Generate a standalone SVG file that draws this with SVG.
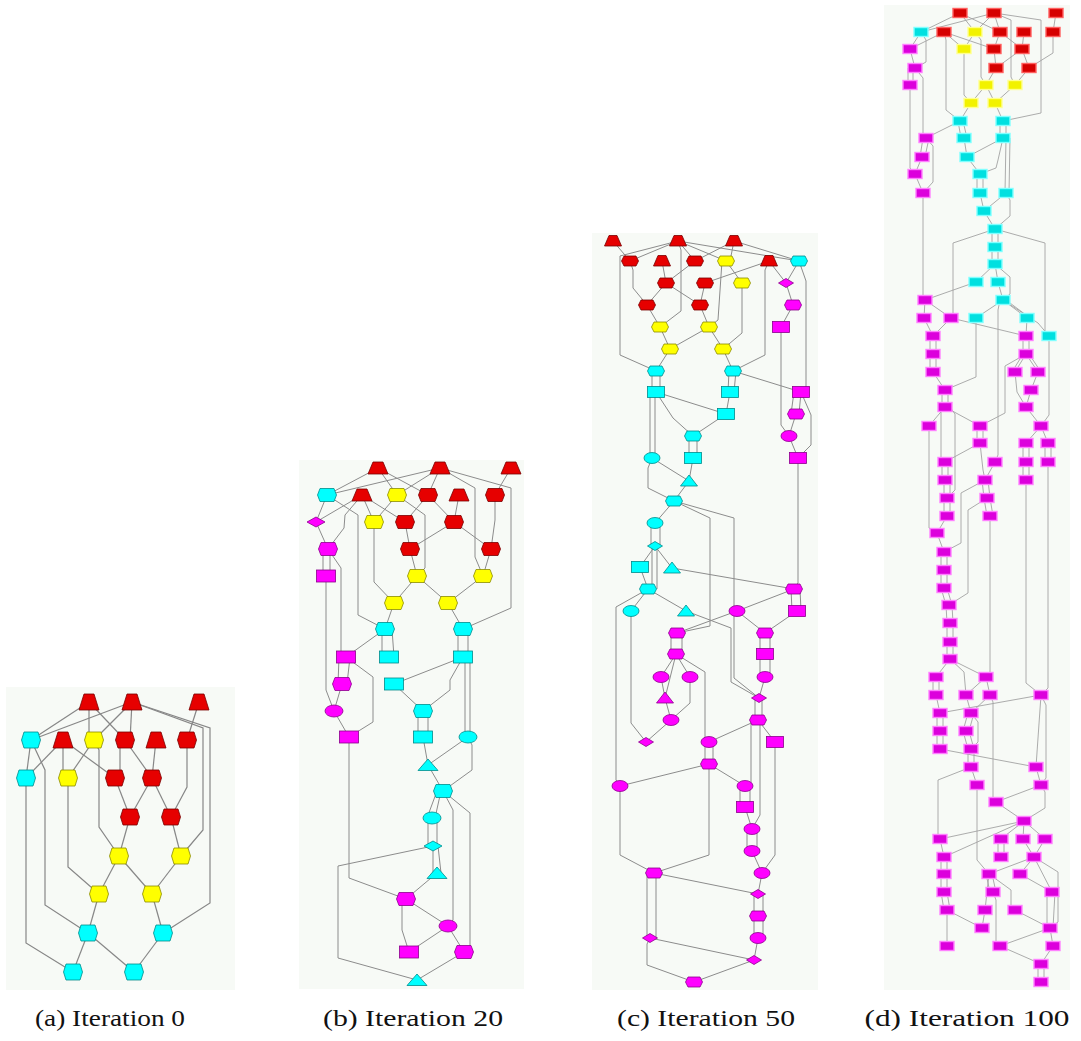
<svg xmlns="http://www.w3.org/2000/svg" xmlns:xlink="http://www.w3.org/1999/xlink" width="1081" height="1041" viewBox="0 0 1081 1041">
<style>
.bg{fill:#f7faf6}
.e polyline{fill:none;stroke:#8c8c8c;stroke-width:1}
#edges-a polyline{stroke:#878787;stroke-width:1.2}
#edges-d polyline{stroke:#a3a3a3;stroke-width:0.9}
.r{fill:#e60000;stroke:#7a0000;stroke-width:0.8}
.y{fill:#ffff00;stroke:#8c8c00;stroke-width:0.8}
.c{fill:#00ffff;stroke:#008b8b;stroke-width:0.8}
.m{fill:#ff00ff;stroke:#8b008b;stroke-width:0.8}
.dr{fill:#d60000;stroke:#ff6060;stroke-width:1.4}
.dy{fill:#f2f200;stroke:#ffff90;stroke-width:1.4}
.dc{fill:#00e0e0;stroke:#80ffff;stroke-width:1.4}
.dm{fill:#dc00dc;stroke:#ff80ff;stroke-width:1.4}
.cap{font-family:'Liberation Serif','Times New Roman',Times,serif;font-size:24px;fill:#111;text-anchor:middle}
</style>
<defs>
<polygon id="trA" points="-5,-8 5,-8 10,8 -10,8"/>
<polygon id="hxA" points="-7,-8 7,-8 9.5,0 7,8 -7,8 -9.5,0"/>
<polygon id="trB" points="-5,-6 5,-6 10,6 -10,6"/>
<polygon id="hxB" points="-7,-6.5 7,-6.5 9.5,0 7,6.5 -7,6.5 -9.5,0"/>
<rect id="rcB" x="-9.5" y="-6" width="19" height="12"/>
<ellipse id="elB" rx="9" ry="6"/>
<polygon id="dmB" points="-9,0 0,-5 9,0 0,5"/>
<polygon id="tiB" points="0,-6 10,5.5 -10,5.5"/>
<polygon id="trC" points="-4,-5.5 4,-5.5 8.5,5 -8.5,5"/>
<polygon id="hxC" points="-6,-5 6,-5 8.5,0 6,5 -6,5 -8.5,0"/>
<rect id="rcC" x="-8.5" y="-5.5" width="17" height="11"/>
<ellipse id="elC" rx="8" ry="5.5"/>
<polygon id="dmC" points="-7.5,0 0,-4.5 7.5,0 0,4.5"/>
<polygon id="tiC" points="0,-6 8.5,5 -8.5,5"/>
<rect id="rcD" x="-7" y="-4.5" width="14" height="9"/>
</defs>
<rect width="1081" height="1041" fill="#ffffff"/>
<rect class="bg" x="6" y="687" width="229" height="303"/>
<rect class="bg" x="299" y="460" width="225" height="529"/>
<rect class="bg" x="592" y="233" width="226" height="757"/>
<rect class="bg" x="884" y="5" width="186" height="985"/>

<g id="edges-a" class="e">
<polyline points="89,702 31,740"/><polyline points="89,702 89,733"/><polyline points="89,702 125,740"/>
<polyline points="132,702 31,740"/><polyline points="132,702 94,740"/><polyline points="132,702 130,740"/>
<polyline points="132,702 203,728 203,830 181,856"/><polyline points="132,702 210,728 210,903 163,933"/>
<polyline points="199,702 187,740"/>
<polyline points="31,740 26,778"/><polyline points="31,740 45,770 45,905 88,933"/>
<polyline points="63,740 26,778"/><polyline points="63,740 63,771"/><polyline points="63,740 115,778"/>
<polyline points="94,740 68,778"/><polyline points="94,740 99,750 99,827 119,856"/>
<polyline points="120,740 120,778"/><polyline points="125,740 152,778"/><polyline points="156,740 152,778"/>
<polyline points="187,740 187,787 171,817"/>
<polyline points="26,778 26,943 73,972"/><polyline points="68,778 68,867 99,894"/>
<polyline points="115,778 130,817"/><polyline points="152,778 130,817"/><polyline points="152,778 171,817"/>
<polyline points="130,817 119,856"/><polyline points="171,817 181,856"/>
<polyline points="119,856 99,894"/><polyline points="119,856 152,894"/><polyline points="181,856 152,894"/>
<polyline points="99,894 88,933"/><polyline points="152,894 163,933"/>
<polyline points="88,933 73,972"/><polyline points="88,933 134,972"/><polyline points="163,933 134,972"/>
</g>

<g id="edges-b" class="e">
<polyline points="378,468 327,495"/><polyline points="378,468 397,495"/><polyline points="378,468 428,495"/>
<polyline points="440,468 327,495"/><polyline points="440,468 397,495"/><polyline points="440,468 428,495"/>
<polyline points="440,468 475,488 475,557 483,576"/><polyline points="440,468 511,488 511,608 463,629"/>
<polyline points="511,468 495,495"/>
<polyline points="327,495 316,522"/><polyline points="327,495 358,515 358,615 385,629"/>
<polyline points="362,495 316,522"/><polyline points="362,495 345,515 344,528 328,549"/>
<polyline points="362,495 374,522"/><polyline points="362,495 405,522"/>
<polyline points="397,495 374,522"/><polyline points="397,495 425,515 425,568 417,576"/>
<polyline points="428,495 405,522"/><polyline points="428,495 454,522"/><polyline points="459,495 454,522"/>
<polyline points="495,495 495,520 491,549"/>
<polyline points="316,522 328,549"/><polyline points="374,522 374,582 394,603"/>
<polyline points="405,522 410,549"/><polyline points="454,522 410,549"/><polyline points="454,522 491,549"/>
<polyline points="323,549 323,576"/><polyline points="330,549 330,576"/>
<polyline points="328,549 341,568 341,657"/>
<polyline points="410,549 417,576"/><polyline points="491,549 483,576"/>
<polyline points="326,576 326,690 334,711"/>
<polyline points="417,576 394,603"/><polyline points="417,576 448,603"/><polyline points="483,576 448,603"/>
<polyline points="394,603 385,629"/><polyline points="448,603 463,629"/>
<polyline points="385,629 346,657"/><polyline points="382,629 382,657"/><polyline points="392,629 394,657"/>
<polyline points="458,629 458,657"/><polyline points="468,629 468,657"/>
<polyline points="463,657 394,684"/><polyline points="463,657 450,680 450,690 423,711"/>
<polyline points="465,657 465,737"/><polyline points="470,657 470,737"/>
<polyline points="339,657 338,684"/><polyline points="350,657 347,684"/>
<polyline points="346,657 373,677 373,722 349,737"/>
<polyline points="342,684 334,711"/><polyline points="394,684 423,711"/>
<polyline points="418,711 418,737"/><polyline points="428,711 428,737"/>
<polyline points="334,711 349,737"/>
<polyline points="349,737 349,878 406,899"/>
<polyline points="423,737 428,765"/><polyline points="468,737 428,765"/>
<polyline points="468,737 472,745 472,770 443,791"/>
<polyline points="428,765 443,791"/>
<polyline points="437,791 427,818"/><polyline points="441,791 435,818"/>
<polyline points="443,791 453,810 453,920 448,926"/><polyline points="443,791 470,813 470,947 464,952"/>
<polyline points="428,818 428,846"/><polyline points="437,818 437,846"/>
<polyline points="433,846 338,866 338,958 417,980"/>
<polyline points="433,846 433,873"/><polyline points="438,846 441,873"/>
<polyline points="437,873 406,899"/>
<polyline points="406,899 448,926"/><polyline points="406,899 402,904 402,930 409,952"/>
<polyline points="448,926 409,952"/><polyline points="448,926 464,952"/>
<polyline points="464,952 417,980"/>
</g>

<g id="edges-c" class="e">
<polyline points="613,241 630,261"/><polyline points="678,241 630,261"/>
<polyline points="678,241 620,256 620,355 656,371"/><polyline points="678,241 695,261"/>
<polyline points="678,241 681,250 681,311 660,327"/><polyline points="678,241 726,261"/><polyline points="678,241 799,261"/>
<polyline points="734,241 695,261"/><polyline points="734,241 730,261"/><polyline points="734,241 799,261"/>
<polyline points="662,261 666,283"/><polyline points="630,261 633,270 633,288 647,305"/>
<polyline points="695,261 666,283"/><polyline points="726,261 742,283"/><polyline points="722,261 718,320 709,327"/>
<polyline points="769,261 705,283"/><polyline points="769,261 765,270 765,355 733,371"/><polyline points="769,261 786,283"/>
<polyline points="799,261 786,283"/><polyline points="799,261 806,281 806,388 801,392"/>
<polyline points="666,283 647,305"/><polyline points="666,283 700,305"/><polyline points="705,283 700,305"/>
<polyline points="742,283 742,333 723,349"/><polyline points="786,283 793,305"/><polyline points="793,305 781,327"/>
<polyline points="647,305 660,327"/><polyline points="700,305 709,327"/>
<polyline points="660,327 670,349"/><polyline points="709,327 670,349"/><polyline points="709,327 723,349"/>
<polyline points="670,349 656,371"/><polyline points="723,349 733,371"/>
<polyline points="652,371 652,392"/><polyline points="660,371 660,392"/>
<polyline points="729,371 728,392"/><polyline points="736,371 734,392"/><polyline points="733,371 801,392"/>
<polyline points="656,392 726,414"/><polyline points="656,392 673,418 693,436"/>
<polyline points="650,392 650,458"/><polyline points="655,392 655,458"/>
<polyline points="730,392 726,414"/><polyline points="726,414 693,436"/>
<polyline points="689,436 689,458"/><polyline points="697,436 697,458"/>
<polyline points="693,458 689,481"/><polyline points="652,458 689,481"/>
<polyline points="652,458 648,468 648,488 674,501"/><polyline points="689,481 674,501"/>
<polyline points="781,327 781,425 789,436"/>
<polyline points="794,392 791,414"/><polyline points="801,392 799,414"/>
<polyline points="801,392 811,415 811,445 798,458"/>
<polyline points="796,414 789,436"/><polyline points="789,436 798,458"/>
<polyline points="798,458 798,583 794,589"/>
<polyline points="674,501 655,523"/><polyline points="674,501 710,518 710,626 677,633"/>
<polyline points="674,501 734,518 734,678 759,698"/>
<polyline points="651,523 651,546"/><polyline points="660,523 660,546"/>
<polyline points="655,546 640,567"/><polyline points="655,546 672,568"/>
<polyline points="652,546 652,589"/><polyline points="657,546 657,589"/>
<polyline points="640,567 648,589"/><polyline points="672,568 794,589"/>
<polyline points="648,589 631,611"/><polyline points="648,589 686,611"/>
<polyline points="648,589 616,607 616,780 620,786"/>
<polyline points="686,611 731,628 731,682 759,698"/>
<polyline points="631,611 631,723 646,742"/>
<polyline points="794,589 737,611"/><polyline points="791,589 792,611"/><polyline points="800,589 801,611"/>
<polyline points="737,611 677,633"/><polyline points="737,611 765,633"/><polyline points="797,611 765,633"/>
<polyline points="671,633 671,654"/><polyline points="682,633 682,654"/>
<polyline points="760,633 760,654"/><polyline points="770,633 770,654"/>
<polyline points="760,654 760,677"/><polyline points="770,654 770,677"/>
<polyline points="676,654 661,677"/><polyline points="676,654 690,677"/><polyline points="676,654 665,698"/>
<polyline points="676,654 705,672 705,742"/>
<polyline points="661,677 665,698"/><polyline points="690,677 690,703 671,720"/>
<polyline points="665,698 671,720"/><polyline points="765,677 759,698"/>
<polyline points="755,698 755,720"/><polyline points="762,698 762,720"/>
<polyline points="758,720 709,742"/><polyline points="758,720 775,742"/>
<polyline points="751,720 751,786"/><polyline points="760,720 760,815 752,829"/>
<polyline points="671,720 646,742"/>
<polyline points="705,742 705,764"/><polyline points="713,742 713,764"/>
<polyline points="709,764 620,786"/><polyline points="709,764 745,786"/>
<polyline points="709,764 709,855 654,873"/>
<polyline points="775,742 775,855 762,873"/>
<polyline points="620,786 620,855 654,873"/>
<polyline points="740,786 740,807"/><polyline points="750,786 750,807"/>
<polyline points="745,807 752,829"/>
<polyline points="747,829 747,851"/><polyline points="757,829 757,851"/>
<polyline points="752,851 762,873"/>
<polyline points="647,873 647,938"/><polyline points="656,873 656,938"/>
<polyline points="654,873 758,894"/><polyline points="762,873 758,894"/>
<polyline points="754,894 754,916"/><polyline points="763,894 763,916"/>
<polyline points="754,916 754,938"/><polyline points="763,916 763,938"/>
<polyline points="758,938 754,960"/><polyline points="650,938 754,960"/>
<polyline points="650,938 647,944 647,965 694,982"/><polyline points="754,960 694,982"/>
</g>

<g id="edges-d" class="e">
<polyline points="960,13 921,32"/><polyline points="960,13 975,32"/><polyline points="960,13 1000,32"/>
<polyline points="994,13 921,32"/><polyline points="994,13 975,32"/><polyline points="994,13 1000,32"/>
<polyline points="994,13 1011,20 1011,77 1015,85"/><polyline points="994,13 1041,20 1041,113 1003,121"/>
<polyline points="1056,13 1053,32"/>
<polyline points="921,32 910,49"/><polyline points="921,32 926,40 926,62 915,68"/>
<polyline points="944,32 910,49"/><polyline points="944,32 946,40 946,110 960,121"/>
<polyline points="944,32 964,49"/><polyline points="944,32 994,49"/>
<polyline points="975,32 964,49"/><polyline points="975,32 981,40 981,77 986,85"/>
<polyline points="1000,32 994,49"/><polyline points="1000,32 1022,49"/><polyline points="1024,32 1022,49"/>
<polyline points="1053,32 1053,53 1029,68"/>
<polyline points="910,49 915,68"/><polyline points="964,49 964,95 971,103"/>
<polyline points="994,49 996,68"/><polyline points="1022,49 996,68"/><polyline points="1022,49 1029,68"/>
<polyline points="908,68 908,85"/><polyline points="913,68 913,85"/>
<polyline points="915,68 923,78 923,133 926,138"/>
<polyline points="996,68 986,85"/><polyline points="1029,68 1015,85"/>
<polyline points="910,85 910,168 915,174"/>
<polyline points="986,85 971,103"/><polyline points="986,85 995,103"/><polyline points="1015,85 995,103"/>
<polyline points="971,103 960,121"/><polyline points="995,103 1003,121"/>
<polyline points="960,121 926,138"/><polyline points="958,121 961,138"/><polyline points="963,121 967,138"/>
<polyline points="1000,121 1000,138"/><polyline points="1006,121 1006,138"/>
<polyline points="923,138 920,157"/><polyline points="929,138 925,157"/>
<polyline points="926,138 933,146 933,182 923,193"/>
<polyline points="964,138 967,157"/><polyline points="1003,138 967,157"/>
<polyline points="1003,138 998,160 996,168 980,174"/>
<polyline points="1006,138 1005,193"/><polyline points="1010,138 1009,193"/>
<polyline points="922,157 915,174"/><polyline points="967,157 980,174"/><polyline points="915,174 923,193"/>
<polyline points="977,174 977,193"/><polyline points="983,174 983,193"/>
<polyline points="980,193 984,211"/><polyline points="1006,193 984,211"/>
<polyline points="1006,193 1010,200 1010,216 995,229"/>
<polyline points="923,193 923,295 925,300"/>
<polyline points="984,211 995,229"/>
<polyline points="992,229 992,247"/><polyline points="998,229 998,247"/>
<polyline points="995,229 953,243 953,313 951,318"/><polyline points="995,229 1045,243 1045,331 1049,336"/>
<polyline points="992,247 992,264"/><polyline points="998,247 998,264"/>
<polyline points="995,264 976,282"/><polyline points="995,264 998,282"/><polyline points="995,264 1010,277 1010,294 1003,300"/>
<polyline points="976,282 925,300"/><polyline points="998,282 1003,300"/>
<polyline points="925,300 924,318"/><polyline points="925,300 951,318"/>
<polyline points="1003,300 976,318"/><polyline points="1003,300 1027,318"/><polyline points="1006,300 1030,318"/>
<polyline points="1003,300 1038,323 1049,336"/><polyline points="1000,300 998,310 998,455 995,462"/>
<polyline points="924,318 933,336"/><polyline points="951,318 933,336"/><polyline points="951,318 1026,336"/>
<polyline points="976,318 976,377 945,390"/><polyline points="1027,318 1026,336"/>
<polyline points="930,336 930,354"/><polyline points="936,336 936,354"/>
<polyline points="930,354 930,372"/><polyline points="936,354 936,372"/>
<polyline points="1023,336 1023,354"/><polyline points="1029,336 1029,354"/>
<polyline points="1026,354 1015,372"/><polyline points="1023,354 1012,372"/>
<polyline points="1026,354 1038,372"/><polyline points="1029,354 1041,372"/>
<polyline points="1026,354 1005,366 1005,413 980,426"/>
<polyline points="933,372 945,390"/><polyline points="1015,372 1017,392 1026,407"/>
<polyline points="1038,372 1031,390"/><polyline points="1031,390 1026,407"/>
<polyline points="942,390 942,407"/><polyline points="948,390 948,407"/>
<polyline points="945,407 929,426"/><polyline points="945,407 980,426"/>
<polyline points="941,407 941,457 945,462"/><polyline points="950,407 955,414 955,490 947,498"/>
<polyline points="1026,407 1041,426"/><polyline points="1049,336 1049,415 1041,426"/>
<polyline points="929,426 929,528 937,533"/>
<polyline points="977,426 977,443"/><polyline points="983,426 983,443"/>
<polyline points="980,443 945,462"/><polyline points="980,443 983,470 985,480"/><polyline points="995,462 985,480"/>
<polyline points="1041,426 1026,443"/><polyline points="1041,426 1048,443"/>
<polyline points="1023,443 1023,462"/><polyline points="1029,443 1029,462"/>
<polyline points="1023,462 1023,480"/><polyline points="1029,462 1029,480"/>
<polyline points="1045,443 1045,462"/><polyline points="1051,443 1051,462"/>
<polyline points="1026,480 1026,683 1041,695"/><polyline points="1048,462 1048,688 1041,695"/>
<polyline points="942,462 942,480"/><polyline points="948,462 948,480"/>
<polyline points="944,480 944,498"/><polyline points="950,480 950,498"/>
<polyline points="944,498 944,516"/><polyline points="950,498 950,516"/>
<polyline points="947,516 937,533"/>
<polyline points="982,480 984,498"/><polyline points="988,480 990,498"/>
<polyline points="985,480 961,493 961,543 944,552"/>
<polyline points="984,498 987,516"/><polyline points="990,498 993,516"/>
<polyline points="987,498 968,510 968,593 949,605"/>
<polyline points="990,516 990,672 986,677"/>
<polyline points="937,533 944,552"/>
<polyline points="941,552 941,570"/><polyline points="947,552 947,570"/>
<polyline points="941,570 941,588"/><polyline points="947,570 947,588"/>
<polyline points="941,588 946,605"/><polyline points="947,588 952,605"/>
<polyline points="946,605 947,623"/><polyline points="952,605 953,623"/>
<polyline points="947,623 947,642"/><polyline points="953,623 953,642"/>
<polyline points="947,642 947,659"/><polyline points="953,642 953,659"/>
<polyline points="950,659 936,677"/><polyline points="950,659 964,672 966,695"/><polyline points="950,659 986,677"/>
<polyline points="933,677 933,695"/><polyline points="939,677 939,695"/>
<polyline points="986,677 966,695"/><polyline points="986,677 990,695"/>
<polyline points="936,695 940,713"/><polyline points="1041,695 940,713"/>
<polyline points="990,695 971,713"/><polyline points="966,695 971,713"/>
<polyline points="937,713 937,731"/><polyline points="943,713 943,731"/>
<polyline points="937,731 937,749"/><polyline points="943,731 943,749"/>
<polyline points="968,713 963,731"/><polyline points="974,713 969,731"/>
<polyline points="971,713 978,722 978,742 971,749"/>
<polyline points="963,731 968,749"/><polyline points="969,731 974,749"/>
<polyline points="940,749 1036,767"/>
<polyline points="968,749 968,767"/><polyline points="974,749 974,767"/>
<polyline points="971,767 977,785"/><polyline points="971,767 938,780 938,835 940,839"/>
<polyline points="1041,695 1036,767"/><polyline points="1041,695 1046,705 1046,778 1041,785"/>
<polyline points="1036,767 1041,785"/>
<polyline points="990,695 993,702 993,797 996,802"/>
<polyline points="977,785 977,860 989,874"/>
<polyline points="1041,785 996,802"/><polyline points="1041,785 1045,792 1045,808 1024,821"/>
<polyline points="996,802 1024,821"/>
<polyline points="1024,821 940,839"/><polyline points="1024,821 1001,839"/><polyline points="1024,821 1023,839"/>
<polyline points="1024,821 1045,839"/><polyline points="1024,821 944,857"/>
<polyline points="940,839 944,857"/>
<polyline points="998,839 998,857"/><polyline points="1004,839 1004,857"/>
<polyline points="1023,839 1034,857"/><polyline points="1045,839 1034,857"/>
<polyline points="941,857 941,874"/><polyline points="947,857 947,874"/>
<polyline points="941,874 941,892"/><polyline points="947,874 947,892"/>
<polyline points="941,892 944,910"/><polyline points="947,892 950,910"/>
<polyline points="947,910 947,946"/>
<polyline points="1034,857 989,874"/><polyline points="1034,857 1020,874"/><polyline points="1034,857 1052,892"/>
<polyline points="1034,857 1058,872 1058,922 1050,928"/>
<polyline points="986,874 990,892"/><polyline points="992,874 996,892"/>
<polyline points="989,874 985,910"/><polyline points="989,874 1011,890 1011,905 1015,910"/>
<polyline points="993,892 996,900 996,941 1000,946"/>
<polyline points="1020,874 1052,892"/>
<polyline points="985,910 982,928"/><polyline points="947,910 982,928"/><polyline points="1015,910 1050,928"/>
<polyline points="1047,892 1047,928"/><polyline points="1055,892 1053,928"/>
<polyline points="1050,928 1053,946"/><polyline points="1050,928 1000,946"/>
<polyline points="1000,946 1041,964"/><polyline points="1053,946 1041,964"/>
<polyline points="1038,964 1038,982"/><polyline points="1044,964 1044,982"/>
</g>

<g id="nodes-a">
<g id="a0" class="r"><use href="#trA" x="89" y="702"/></g>
<g id="a1" class="r"><use href="#trA" x="132" y="702"/></g>
<g id="a2" class="r"><use href="#trA" x="199" y="702"/></g>
<g id="a3" class="c"><use href="#hxA" x="31" y="740"/></g>
<g id="a4" class="r"><use href="#trA" x="63" y="740"/></g>
<g id="a5" class="y"><use href="#hxA" x="94" y="740"/></g>
<g id="a6" class="r"><use href="#hxA" x="125" y="740"/></g>
<g id="a7" class="r"><use href="#trA" x="156" y="740"/></g>
<g id="a8" class="r"><use href="#hxA" x="187" y="740"/></g>
<g id="a9" class="c"><use href="#hxA" x="26" y="778"/></g>
<g id="a10" class="y"><use href="#hxA" x="68" y="778"/></g>
<g id="a11" class="r"><use href="#hxA" x="115" y="778"/></g>
<g id="a12" class="r"><use href="#hxA" x="152" y="778"/></g>
<g id="a13" class="r"><use href="#hxA" x="130" y="817"/></g>
<g id="a14" class="r"><use href="#hxA" x="171" y="817"/></g>
<g id="a15" class="y"><use href="#hxA" x="119" y="856"/></g>
<g id="a16" class="y"><use href="#hxA" x="181" y="856"/></g>
<g id="a17" class="y"><use href="#hxA" x="99" y="894"/></g>
<g id="a18" class="y"><use href="#hxA" x="152" y="894"/></g>
<g id="a19" class="c"><use href="#hxA" x="88" y="933"/></g>
<g id="a20" class="c"><use href="#hxA" x="163" y="933"/></g>
<g id="a21" class="c"><use href="#hxA" x="73" y="972"/></g>
<g id="a22" class="c"><use href="#hxA" x="134" y="972"/></g>
</g>

<g id="nodes-b">
<g id="b0" class="r"><use href="#trB" x="378" y="468"/></g>
<g id="b1" class="r"><use href="#trB" x="440" y="468"/></g>
<g id="b2" class="r"><use href="#trB" x="511" y="468"/></g>
<g id="b3" class="c"><use href="#hxB" x="327" y="495"/></g>
<g id="b4" class="r"><use href="#trB" x="362" y="495"/></g>
<g id="b5" class="y"><use href="#hxB" x="397" y="495"/></g>
<g id="b6" class="r"><use href="#hxB" x="428" y="495"/></g>
<g id="b7" class="r"><use href="#trB" x="459" y="495"/></g>
<g id="b8" class="r"><use href="#hxB" x="495" y="495"/></g>
<g id="b9" class="m"><use href="#dmB" x="316" y="522"/></g>
<g id="b10" class="y"><use href="#hxB" x="374" y="522"/></g>
<g id="b11" class="r"><use href="#hxB" x="405" y="522"/></g>
<g id="b12" class="r"><use href="#hxB" x="454" y="522"/></g>
<g id="b13" class="m"><use href="#hxB" x="328" y="549"/></g>
<g id="b14" class="r"><use href="#hxB" x="410" y="549"/></g>
<g id="b15" class="r"><use href="#hxB" x="491" y="549"/></g>
<g id="b16" class="m"><use href="#rcB" x="326" y="576"/></g>
<g id="b17" class="y"><use href="#hxB" x="417" y="576"/></g>
<g id="b18" class="y"><use href="#hxB" x="483" y="576"/></g>
<g id="b19" class="y"><use href="#hxB" x="394" y="603"/></g>
<g id="b20" class="y"><use href="#hxB" x="448" y="603"/></g>
<g id="b21" class="c"><use href="#hxB" x="385" y="629"/></g>
<g id="b22" class="c"><use href="#hxB" x="463" y="629"/></g>
<g id="b23" class="m"><use href="#rcB" x="346" y="657"/></g>
<g id="b24" class="c"><use href="#rcB" x="389" y="657"/></g>
<g id="b25" class="c"><use href="#rcB" x="463" y="657"/></g>
<g id="b26" class="m"><use href="#hxB" x="342" y="684"/></g>
<g id="b27" class="c"><use href="#rcB" x="394" y="684"/></g>
<g id="b28" class="m"><use href="#elB" x="334" y="711"/></g>
<g id="b29" class="c"><use href="#hxB" x="423" y="711"/></g>
<g id="b30" class="m"><use href="#rcB" x="349" y="737"/></g>
<g id="b31" class="c"><use href="#rcB" x="423" y="737"/></g>
<g id="b32" class="c"><use href="#elB" x="468" y="737"/></g>
<g id="b33" class="c"><use href="#tiB" x="428" y="765"/></g>
<g id="b34" class="c"><use href="#hxB" x="443" y="791"/></g>
<g id="b35" class="c"><use href="#elB" x="432" y="818"/></g>
<g id="b36" class="c"><use href="#dmB" x="433" y="846"/></g>
<g id="b37" class="c"><use href="#tiB" x="437" y="873"/></g>
<g id="b38" class="m"><use href="#hxB" x="406" y="899"/></g>
<g id="b39" class="m"><use href="#elB" x="448" y="926"/></g>
<g id="b40" class="m"><use href="#rcB" x="409" y="952"/></g>
<g id="b41" class="m"><use href="#hxB" x="464" y="952"/></g>
<g id="b42" class="c"><use href="#tiB" x="417" y="980"/></g>
</g>

<g id="nodes-c">
<g id="c0" class="r"><use href="#trC" x="613" y="241"/></g>
<g id="c1" class="r"><use href="#trC" x="678" y="241"/></g>
<g id="c2" class="r"><use href="#trC" x="734" y="241"/></g>
<g id="c3" class="r"><use href="#hxC" x="630" y="261"/></g>
<g id="c4" class="r"><use href="#trC" x="662" y="261"/></g>
<g id="c5" class="r"><use href="#hxC" x="695" y="261"/></g>
<g id="c6" class="y"><use href="#hxC" x="726" y="261"/></g>
<g id="c7" class="r"><use href="#trC" x="769" y="261"/></g>
<g id="c8" class="c"><use href="#hxC" x="799" y="261"/></g>
<g id="c9" class="r"><use href="#hxC" x="666" y="283"/></g>
<g id="c10" class="r"><use href="#hxC" x="705" y="283"/></g>
<g id="c11" class="y"><use href="#hxC" x="742" y="283"/></g>
<g id="c12" class="m"><use href="#dmC" x="786" y="283"/></g>
<g id="c13" class="r"><use href="#hxC" x="647" y="305"/></g>
<g id="c14" class="r"><use href="#hxC" x="700" y="305"/></g>
<g id="c15" class="m"><use href="#hxC" x="793" y="305"/></g>
<g id="c16" class="y"><use href="#hxC" x="660" y="327"/></g>
<g id="c17" class="y"><use href="#hxC" x="709" y="327"/></g>
<g id="c18" class="m"><use href="#rcC" x="781" y="327"/></g>
<g id="c19" class="y"><use href="#hxC" x="670" y="349"/></g>
<g id="c20" class="y"><use href="#hxC" x="723" y="349"/></g>
<g id="c21" class="c"><use href="#hxC" x="656" y="371"/></g>
<g id="c22" class="c"><use href="#hxC" x="733" y="371"/></g>
<g id="c23" class="c"><use href="#rcC" x="656" y="392"/></g>
<g id="c24" class="c"><use href="#rcC" x="730" y="392"/></g>
<g id="c25" class="m"><use href="#rcC" x="801" y="392"/></g>
<g id="c26" class="c"><use href="#rcC" x="726" y="414"/></g>
<g id="c27" class="m"><use href="#hxC" x="796" y="414"/></g>
<g id="c28" class="c"><use href="#hxC" x="693" y="436"/></g>
<g id="c29" class="m"><use href="#elC" x="789" y="436"/></g>
<g id="c30" class="c"><use href="#elC" x="652" y="458"/></g>
<g id="c31" class="c"><use href="#rcC" x="693" y="458"/></g>
<g id="c32" class="m"><use href="#rcC" x="798" y="458"/></g>
<g id="c33" class="c"><use href="#tiC" x="689" y="481"/></g>
<g id="c34" class="c"><use href="#hxC" x="674" y="501"/></g>
<g id="c35" class="c"><use href="#elC" x="655" y="523"/></g>
<g id="c36" class="c"><use href="#dmC" x="655" y="546"/></g>
<g id="c37" class="c"><use href="#rcC" x="640" y="567"/></g>
<g id="c38" class="c"><use href="#tiC" x="672" y="568"/></g>
<g id="c39" class="c"><use href="#hxC" x="648" y="589"/></g>
<g id="c40" class="m"><use href="#hxC" x="794" y="589"/></g>
<g id="c41" class="c"><use href="#elC" x="631" y="611"/></g>
<g id="c42" class="c"><use href="#tiC" x="686" y="611"/></g>
<g id="c43" class="m"><use href="#elC" x="737" y="611"/></g>
<g id="c44" class="m"><use href="#rcC" x="797" y="611"/></g>
<g id="c45" class="m"><use href="#hxC" x="677" y="633"/></g>
<g id="c46" class="m"><use href="#hxC" x="765" y="633"/></g>
<g id="c47" class="m"><use href="#hxC" x="676" y="654"/></g>
<g id="c48" class="m"><use href="#rcC" x="765" y="654"/></g>
<g id="c49" class="m"><use href="#elC" x="661" y="677"/></g>
<g id="c50" class="m"><use href="#elC" x="690" y="677"/></g>
<g id="c51" class="m"><use href="#elC" x="765" y="677"/></g>
<g id="c52" class="m"><use href="#tiC" x="665" y="698"/></g>
<g id="c53" class="m"><use href="#dmC" x="759" y="698"/></g>
<g id="c54" class="m"><use href="#elC" x="671" y="720"/></g>
<g id="c55" class="m"><use href="#hxC" x="758" y="720"/></g>
<g id="c56" class="m"><use href="#dmC" x="646" y="742"/></g>
<g id="c57" class="m"><use href="#elC" x="709" y="742"/></g>
<g id="c58" class="m"><use href="#rcC" x="775" y="742"/></g>
<g id="c59" class="m"><use href="#hxC" x="709" y="764"/></g>
<g id="c60" class="m"><use href="#elC" x="620" y="786"/></g>
<g id="c61" class="m"><use href="#elC" x="745" y="786"/></g>
<g id="c62" class="m"><use href="#rcC" x="745" y="807"/></g>
<g id="c63" class="m"><use href="#elC" x="752" y="829"/></g>
<g id="c64" class="m"><use href="#elC" x="752" y="851"/></g>
<g id="c65" class="m"><use href="#hxC" x="654" y="873"/></g>
<g id="c66" class="m"><use href="#elC" x="762" y="873"/></g>
<g id="c67" class="m"><use href="#dmC" x="758" y="894"/></g>
<g id="c68" class="m"><use href="#hxC" x="758" y="916"/></g>
<g id="c69" class="m"><use href="#elC" x="758" y="938"/></g>
<g id="c70" class="m"><use href="#dmC" x="650" y="938"/></g>
<g id="c71" class="m"><use href="#dmC" x="754" y="960"/></g>
<g id="c72" class="m"><use href="#hxC" x="694" y="982"/></g>
</g>

<g id="nodes-d">
<g id="d0" class="dr"><use href="#rcD" x="960" y="13"/></g>
<g id="d1" class="dr"><use href="#rcD" x="994" y="13"/></g>
<g id="d2" class="dr"><use href="#rcD" x="1056" y="13"/></g>
<g id="d3" class="dc"><use href="#rcD" x="921" y="32"/></g>
<g id="d4" class="dr"><use href="#rcD" x="944" y="32"/></g>
<g id="d5" class="dy"><use href="#rcD" x="975" y="32"/></g>
<g id="d6" class="dr"><use href="#rcD" x="1000" y="32"/></g>
<g id="d7" class="dr"><use href="#rcD" x="1024" y="32"/></g>
<g id="d8" class="dr"><use href="#rcD" x="1053" y="32"/></g>
<g id="d9" class="dm"><use href="#rcD" x="910" y="49"/></g>
<g id="d10" class="dy"><use href="#rcD" x="964" y="49"/></g>
<g id="d11" class="dr"><use href="#rcD" x="994" y="49"/></g>
<g id="d12" class="dr"><use href="#rcD" x="1022" y="49"/></g>
<g id="d13" class="dm"><use href="#rcD" x="915" y="68"/></g>
<g id="d14" class="dr"><use href="#rcD" x="996" y="68"/></g>
<g id="d15" class="dr"><use href="#rcD" x="1029" y="68"/></g>
<g id="d16" class="dm"><use href="#rcD" x="910" y="85"/></g>
<g id="d17" class="dy"><use href="#rcD" x="986" y="85"/></g>
<g id="d18" class="dy"><use href="#rcD" x="1015" y="85"/></g>
<g id="d19" class="dy"><use href="#rcD" x="971" y="103"/></g>
<g id="d20" class="dy"><use href="#rcD" x="995" y="103"/></g>
<g id="d21" class="dc"><use href="#rcD" x="960" y="121"/></g>
<g id="d22" class="dc"><use href="#rcD" x="1003" y="121"/></g>
<g id="d23" class="dm"><use href="#rcD" x="926" y="138"/></g>
<g id="d24" class="dc"><use href="#rcD" x="964" y="138"/></g>
<g id="d25" class="dc"><use href="#rcD" x="1003" y="138"/></g>
<g id="d26" class="dm"><use href="#rcD" x="922" y="157"/></g>
<g id="d27" class="dc"><use href="#rcD" x="967" y="157"/></g>
<g id="d28" class="dm"><use href="#rcD" x="915" y="174"/></g>
<g id="d29" class="dc"><use href="#rcD" x="980" y="174"/></g>
<g id="d30" class="dm"><use href="#rcD" x="923" y="193"/></g>
<g id="d31" class="dc"><use href="#rcD" x="980" y="193"/></g>
<g id="d32" class="dc"><use href="#rcD" x="1006" y="193"/></g>
<g id="d33" class="dc"><use href="#rcD" x="984" y="211"/></g>
<g id="d34" class="dc"><use href="#rcD" x="995" y="229"/></g>
<g id="d35" class="dc"><use href="#rcD" x="995" y="247"/></g>
<g id="d36" class="dc"><use href="#rcD" x="995" y="264"/></g>
<g id="d37" class="dc"><use href="#rcD" x="976" y="282"/></g>
<g id="d38" class="dc"><use href="#rcD" x="998" y="282"/></g>
<g id="d39" class="dm"><use href="#rcD" x="925" y="300"/></g>
<g id="d40" class="dc"><use href="#rcD" x="1003" y="300"/></g>
<g id="d41" class="dm"><use href="#rcD" x="924" y="318"/></g>
<g id="d42" class="dm"><use href="#rcD" x="951" y="318"/></g>
<g id="d43" class="dc"><use href="#rcD" x="976" y="318"/></g>
<g id="d44" class="dc"><use href="#rcD" x="1027" y="318"/></g>
<g id="d45" class="dm"><use href="#rcD" x="933" y="336"/></g>
<g id="d46" class="dm"><use href="#rcD" x="1026" y="336"/></g>
<g id="d47" class="dc"><use href="#rcD" x="1049" y="336"/></g>
<g id="d48" class="dm"><use href="#rcD" x="933" y="354"/></g>
<g id="d49" class="dm"><use href="#rcD" x="1026" y="354"/></g>
<g id="d50" class="dm"><use href="#rcD" x="933" y="372"/></g>
<g id="d51" class="dm"><use href="#rcD" x="1015" y="372"/></g>
<g id="d52" class="dm"><use href="#rcD" x="1038" y="372"/></g>
<g id="d53" class="dm"><use href="#rcD" x="945" y="390"/></g>
<g id="d54" class="dm"><use href="#rcD" x="1031" y="390"/></g>
<g id="d55" class="dm"><use href="#rcD" x="945" y="407"/></g>
<g id="d56" class="dm"><use href="#rcD" x="1026" y="407"/></g>
<g id="d57" class="dm"><use href="#rcD" x="929" y="426"/></g>
<g id="d58" class="dm"><use href="#rcD" x="980" y="426"/></g>
<g id="d59" class="dm"><use href="#rcD" x="1041" y="426"/></g>
<g id="d60" class="dm"><use href="#rcD" x="980" y="443"/></g>
<g id="d61" class="dm"><use href="#rcD" x="1026" y="443"/></g>
<g id="d62" class="dm"><use href="#rcD" x="1048" y="443"/></g>
<g id="d63" class="dm"><use href="#rcD" x="945" y="462"/></g>
<g id="d64" class="dm"><use href="#rcD" x="995" y="462"/></g>
<g id="d65" class="dm"><use href="#rcD" x="1026" y="462"/></g>
<g id="d66" class="dm"><use href="#rcD" x="1048" y="462"/></g>
<g id="d67" class="dm"><use href="#rcD" x="945" y="480"/></g>
<g id="d68" class="dm"><use href="#rcD" x="985" y="480"/></g>
<g id="d69" class="dm"><use href="#rcD" x="1026" y="480"/></g>
<g id="d70" class="dm"><use href="#rcD" x="947" y="498"/></g>
<g id="d71" class="dm"><use href="#rcD" x="987" y="498"/></g>
<g id="d72" class="dm"><use href="#rcD" x="947" y="516"/></g>
<g id="d73" class="dm"><use href="#rcD" x="990" y="516"/></g>
<g id="d74" class="dm"><use href="#rcD" x="937" y="533"/></g>
<g id="d75" class="dm"><use href="#rcD" x="944" y="552"/></g>
<g id="d76" class="dm"><use href="#rcD" x="944" y="570"/></g>
<g id="d77" class="dm"><use href="#rcD" x="944" y="588"/></g>
<g id="d78" class="dm"><use href="#rcD" x="949" y="605"/></g>
<g id="d79" class="dm"><use href="#rcD" x="950" y="623"/></g>
<g id="d80" class="dm"><use href="#rcD" x="950" y="642"/></g>
<g id="d81" class="dm"><use href="#rcD" x="950" y="659"/></g>
<g id="d82" class="dm"><use href="#rcD" x="936" y="677"/></g>
<g id="d83" class="dm"><use href="#rcD" x="986" y="677"/></g>
<g id="d84" class="dm"><use href="#rcD" x="936" y="695"/></g>
<g id="d85" class="dm"><use href="#rcD" x="966" y="695"/></g>
<g id="d86" class="dm"><use href="#rcD" x="990" y="695"/></g>
<g id="d87" class="dm"><use href="#rcD" x="1041" y="695"/></g>
<g id="d88" class="dm"><use href="#rcD" x="940" y="713"/></g>
<g id="d89" class="dm"><use href="#rcD" x="971" y="713"/></g>
<g id="d90" class="dm"><use href="#rcD" x="940" y="731"/></g>
<g id="d91" class="dm"><use href="#rcD" x="966" y="731"/></g>
<g id="d92" class="dm"><use href="#rcD" x="940" y="749"/></g>
<g id="d93" class="dm"><use href="#rcD" x="971" y="749"/></g>
<g id="d94" class="dm"><use href="#rcD" x="971" y="767"/></g>
<g id="d95" class="dm"><use href="#rcD" x="1036" y="767"/></g>
<g id="d96" class="dm"><use href="#rcD" x="977" y="785"/></g>
<g id="d97" class="dm"><use href="#rcD" x="1041" y="785"/></g>
<g id="d98" class="dm"><use href="#rcD" x="996" y="802"/></g>
<g id="d99" class="dm"><use href="#rcD" x="1024" y="821"/></g>
<g id="d100" class="dm"><use href="#rcD" x="940" y="839"/></g>
<g id="d101" class="dm"><use href="#rcD" x="1001" y="839"/></g>
<g id="d102" class="dm"><use href="#rcD" x="1023" y="839"/></g>
<g id="d103" class="dm"><use href="#rcD" x="1045" y="839"/></g>
<g id="d104" class="dm"><use href="#rcD" x="944" y="857"/></g>
<g id="d105" class="dm"><use href="#rcD" x="1001" y="857"/></g>
<g id="d106" class="dm"><use href="#rcD" x="1034" y="857"/></g>
<g id="d107" class="dm"><use href="#rcD" x="944" y="874"/></g>
<g id="d108" class="dm"><use href="#rcD" x="989" y="874"/></g>
<g id="d109" class="dm"><use href="#rcD" x="1020" y="874"/></g>
<g id="d110" class="dm"><use href="#rcD" x="944" y="892"/></g>
<g id="d111" class="dm"><use href="#rcD" x="993" y="892"/></g>
<g id="d112" class="dm"><use href="#rcD" x="1052" y="892"/></g>
<g id="d113" class="dm"><use href="#rcD" x="947" y="910"/></g>
<g id="d114" class="dm"><use href="#rcD" x="985" y="910"/></g>
<g id="d115" class="dm"><use href="#rcD" x="1015" y="910"/></g>
<g id="d116" class="dm"><use href="#rcD" x="982" y="928"/></g>
<g id="d117" class="dm"><use href="#rcD" x="1050" y="928"/></g>
<g id="d118" class="dm"><use href="#rcD" x="947" y="946"/></g>
<g id="d119" class="dm"><use href="#rcD" x="1000" y="946"/></g>
<g id="d120" class="dm"><use href="#rcD" x="1053" y="946"/></g>
<g id="d121" class="dm"><use href="#rcD" x="1041" y="964"/></g>
<g id="d122" class="dm"><use href="#rcD" x="1041" y="982"/></g>
</g>

<g id="captions">
<text class="cap" x="110" y="1026" textLength="150" lengthAdjust="spacingAndGlyphs" font-family="'Liberation Serif', 'Times New Roman', serif">(a) Iteration 0</text>
<text class="cap" x="413" y="1026" textLength="180" lengthAdjust="spacingAndGlyphs" font-family="'Liberation Serif', 'Times New Roman', serif">(b) Iteration 20</text>
<text class="cap" x="706" y="1026" textLength="178" lengthAdjust="spacingAndGlyphs" font-family="'Liberation Serif', 'Times New Roman', serif">(c) Iteration 50</text>
<text class="cap" x="967" y="1026" textLength="205" lengthAdjust="spacingAndGlyphs" font-family="'Liberation Serif', 'Times New Roman', serif">(d) Iteration 100</text>
</g>
</svg>
